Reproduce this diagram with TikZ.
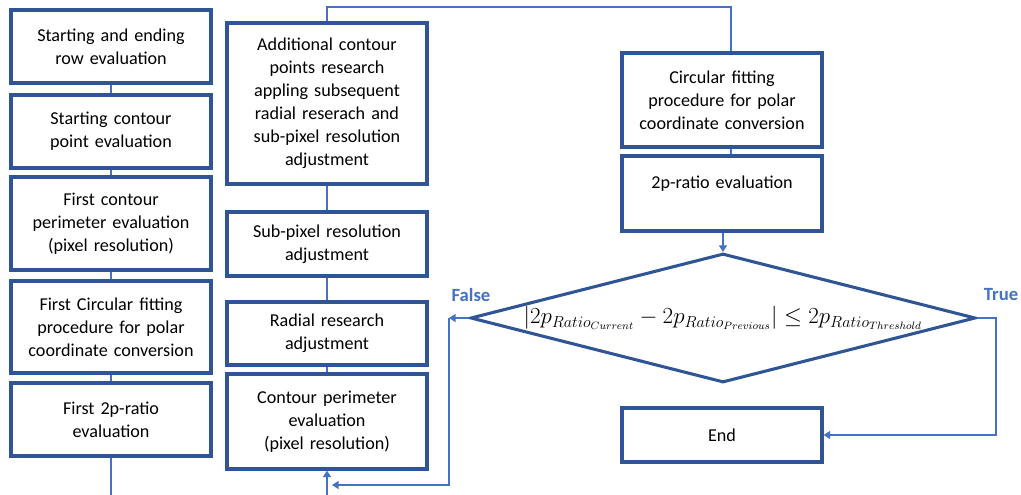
\documentclass[tikz,border=0pt]{standalone}
\usepackage{amsmath,amssymb}
\usepackage{fontspec}
\setmainfont{Carlito}
\usepackage{tikz}
\usetikzlibrary{arrows.meta, calc, positioning, shapes.geometric}
\definecolor{boxblue}{HTML}{2F5597}
\definecolor{lineblue}{HTML}{4472C4}
\tikzset{
  procbox/.style={draw=boxblue, line width=2.3pt, text width=146pt, align=center,
    minimum width=150pt, inner sep=1pt, font=\fontsize{13.6}{17.25}\selectfont},
  link/.style={draw=lineblue, line width=1.8pt},
  arrowlink/.style={link, -{Triangle[length=5pt,width=6pt]}},
  answer/.style={text=lineblue, font=\fontsize{14}{16}\selectfont\bfseries},
}

\begin{document}
\begin{tikzpicture}[x=0.75pt, y=-0.75pt]
\useasboundingbox (0,0) rectangle (1021,495);
    % Left column
    \node [procbox, minimum height=54.75pt] (L1) at (111,46.5) {Starting and ending\\row evaluation};
    \node [procbox, minimum height=54.75pt] (L2) at (111,131.5) {Starting contour\\point evaluation};
    \node [procbox, minimum height=69.75pt] (L3) at (111,223.5) {First contour\\perimeter evaluation\\(pixel resolution)};
    \node [procbox, minimum height=69pt] (L4) at (111,327) {First Circular fitting\\procedure for polar\\coordinate conversion};
    \node [procbox, minimum height=54.75pt] (L5) at (111,419.5) {First 2p-ratio\\evaluation};
    \coordinate (lout) at (111,495);

    % Middle column
    \node [procbox, minimum height=120.75pt] (M1) at (327,103.5) {Additional contour\\points research\\appling subsequent\\radial reserach and\\sub-pixel resolution\\adjustment};
    \node [procbox, minimum height=48pt] (M2) at (327,244) {Sub-pixel resolution\\adjustment};
    \node [procbox, minimum height=47.25pt] (M3) at (327,333.5) {Radial research\\adjustment};
    \node [procbox, minimum height=71.25pt] (M4) at (327,421.5) {Contour perimeter\\evaluation\\(pixel resolution)};
    \coordinate (min) at (327,495);

    % Right column
    \node [procbox, minimum height=70.5pt] (R1) at (722,100) {Circular fitting\\procedure for polar\\coordinate conversion};
    \node [procbox, minimum height=56.25pt] (R2) at (722,193.5) {2p-ratio evaluation\\\mbox{}};
    \node [diamond, aspect=3.9, draw=boxblue, line width=2.3pt, inner sep=0pt,
      minimum width=378.75pt, minimum height=96.75pt, font=\fontsize{16.5}{18}\selectfont] (dia) at (723,318)
      {$\left|2p_{Ratio_{Current}}-2p_{Ratio_{Previous}}\right|\leq 2p_{Ratio_{Threshold}}$};
    \node [procbox, minimum height=40.5pt] (end) at (722,435) {End};
    \coordinate (rtop) at (731,7);

    % Labels
    \node [answer] (false) at (471,295) {False};
    \node [answer] (true) at (1001,295) {True};

    % Connectors
    \foreach \a/\b in {L1/L2, L2/L3, L3/L4, L4/L5, M1/M2, M2/M3, M3/M4}
      \draw [link] (\a.south) -- (\b.north);
    \draw [link] (L5.south) -- (lout);
    \draw [arrowlink] (min) -- (M4.south);
    \draw [link] (M1.north) |- (rtop) -- (rtop |- R1.north);
    \draw [link] (R1.south -| rtop) -- (R2.north -| rtop);
    \draw [arrowlink] (R2.south -| dia.north) -- (dia.north);

    % False branch
    \coordinate (fturn) at (449,318);
    \coordinate (fdown) at (449,485);
    \coordinate (fend) at (332,485);
    \draw [arrowlink] (dia.west) -- (fturn);
    \draw [arrowlink] (fturn) -- (fdown) -- (fend);

    % True branch
    \coordinate (tturn) at (996,318);
    \draw [arrowlink] (dia.east) -- (tturn) |- (end.east);
\end{tikzpicture}
\end{document}
